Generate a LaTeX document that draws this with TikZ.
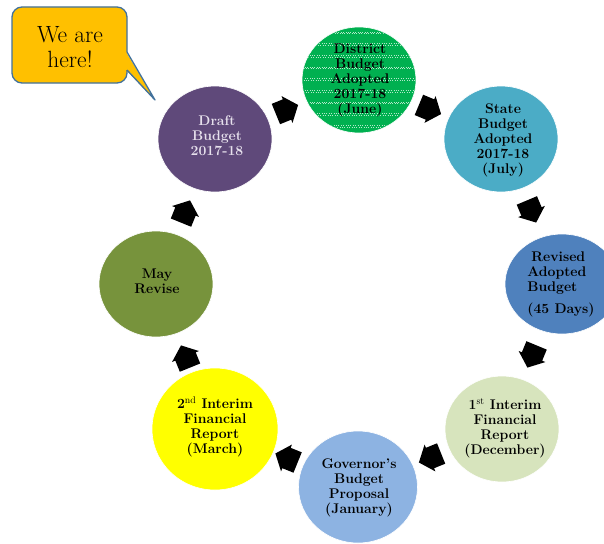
\documentclass[tikz,border=0pt]{standalone}
\usetikzlibrary{shapes.geometric,calc}
\definecolor{draftC}{HTML}{5F497A}
\definecolor{draftT}{HTML}{E6E0EC}
\definecolor{districtC}{HTML}{00B050}
\definecolor{stateC}{HTML}{4BACC6}
\definecolor{revisedC}{HTML}{4F81BD}
\definecolor{firstC}{HTML}{D7E4BD}
\definecolor{govC}{HTML}{8DB3E2}
\definecolor{secondC}{HTML}{FFFF00}
\definecolor{mayC}{HTML}{77933C}
\definecolor{calloutC}{HTML}{FFC000}
\definecolor{calloutB}{HTML}{41719C}
\tikzset{blockarr/.pic={\fill[black] (-12,-11) -- (0,-11) -- (0,-14.5) -- (12,0) -- (0,14.5) -- (0,11) -- (-12,11) -- cycle;}}
\newcommand\cyclearrow[3]{%
  \path let \p1=($(#3.center)-(#2.center)$), \n1={atan2(\y1,\x1)} in
    coordinate (#1) at ($(#2.center)!0.5!(#3.center)$)
    pic[rotate=\n1] at (#1) {blockarr};}
\begin{document}
\begin{tikzpicture}[x=1pt,y=-1pt,
  bubble/.style={ellipse, draw=white, line width=0.6pt, inner sep=0pt,
    minimum width=114pt, minimum height=106pt},
  txt/.style={align=center, inner sep=0pt,
    font=\bfseries\fontsize{14}{15}\selectfont},
  calloutfill/.style={fill=calloutC},
  calloutline/.style={draw=calloutB, line width=1.3pt, line join=round}]
\useasboundingbox (0,0) rectangle (604,543);
\clip (0,0) rectangle (604,543);

% callout
\fill[calloutfill, rounded corners=10pt] (12,7) rectangle (127,83);
\fill[calloutfill] (126,52) -- (155,100) -- (126,70) -- cycle;
\draw[calloutline, rounded corners=10pt] (127,70) -- (127,83) -- (12,83) -- (12,7) -- (127,7) -- (127,52);
\draw[calloutline] (127,52) -- (155,100) -- (127,70);
\node[align=center, inner sep=0pt, font=\fontsize{23.5}{25}\selectfont] (here) at (70,47) {We are\\here!};

% circles
\node[bubble, fill=draftC] (draft) at (215,139) {};
\node[bubble, fill=districtC] (district) at (359,80) {};
\begin{scope}
  \clip (359,80) ellipse [x radius=56pt, y radius=52pt];
  \foreach \yy in {32,43.7,55.4,67.1,78.8,90.5,102.2,113.9,125.6} {
    \draw[white, opacity=0.7, line width=0.9pt, dash pattern=on 1pt off 1.4pt] (300,\yy) -- (420,\yy);
    \draw[white, opacity=0.7, line width=0.9pt, dash pattern=on 1pt off 1.4pt, dash phase=1.2pt] (300,\yy+1.6) -- (420,\yy+1.6);
  }
\end{scope}
\node[bubble, fill=stateC] (state) at (501,139) {};
\node[bubble, fill=revisedC, minimum height=100pt] (revised) at (562,284) {};
\node[bubble, fill=firstC] (first) at (502,429) {};
\node[bubble, fill=govC, minimum width=119pt, minimum height=112pt] (gov) at (358,487) {};
\node[bubble, fill=secondC, minimum width=126pt, minimum height=122pt] (second) at (215,429) {};
\node[bubble, fill=mayC] (may) at (156,284) {};

% texts
\node[txt, text=draftT] (draftTx) at (217,136) {Draft\\Budget\\2017-18};
\node[txt] (districtTx) at (360,80) {District\\Budget\\Adopted\\2017-18\\(June)};
\node[txt] (stateTx) at (503,140) {State\\Budget\\Adopted\\2017-18\\(July)};
\node[txt, align=left] (revisedTx) at (561,284) {\hspace*{4pt}Revised\\Adopted\\Budget\\[7pt](45 Days)};
\node[txt] (firstTx) at (505,428) {1\textsuperscript{\mdseries st} Interim\\Financial\\Report\\(December)};
\node[txt] (govTx) at (359,488) {Governor's\\Budget\\Proposal\\(January)};
\node[txt] (secondTx) at (215,427) {2\textsuperscript{\mdseries nd} Interim\\Financial\\Report\\(March)};
\node[txt] (mayTx) at (157,281) {May\\Revise};

% arrows
\cyclearrow{a1}{draft}{district}
\cyclearrow{a2}{district}{state}
\cyclearrow{a3}{state}{revised}
\cyclearrow{a4}{revised}{first}
\cyclearrow{a5}{first}{gov}
\cyclearrow{a6}{gov}{second}
\cyclearrow{a7}{second}{may}
\cyclearrow{a8}{may}{draft}
\end{tikzpicture}
\end{document}
